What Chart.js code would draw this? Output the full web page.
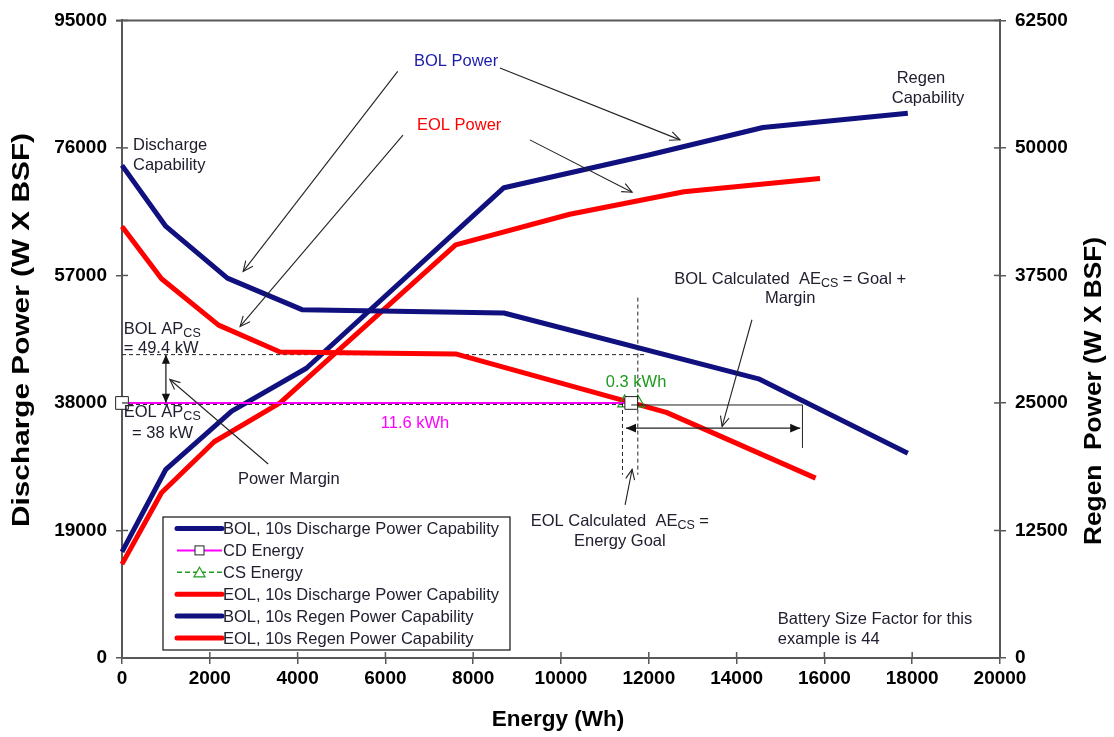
<!DOCTYPE html>
<html>
<head>
<meta charset="utf-8">
<script src="https://cdn.jsdelivr.net/npm/chart.js@4"></script>
<style>body{margin:0;background:#fff}canvas{display:block}</style>
</head>
<body>
<canvas id="chart" width="1114" height="737"></canvas>
<script>
// values (energy in Wh, power in W x BSF)
const bolDisE = [0, 1000, 2400, 4100, 8700, 14500, 17900];
const bolDisP = [73400, 64300, 56600, 51900, 51400, 41600, 30500];
const eolDisE = [0, 900, 2200, 3600, 7600, 12400, 15800];
const eolDisP = [64300, 56500, 49600, 45600, 45300, 36600, 26800];
const bolRegE = [0, 1000, 2500, 4200, 8700, 12000, 14600, 17900];
const bolRegP = [10400, 18500, 24200, 28400, 46100, 49300, 52000, 53400];
const eolRegE = [0, 900, 2100, 3600, 7600, 10200, 12800, 15900];
const eolRegP = [9200, 16200, 21200, 25000, 40500, 43500, 45700, 47000];
const cdE = [0, 11600];
const cdP = [38000, 38000];
const csE = [11450, 11750];
const csP = [38000, 38000];

const seriesNames = [
  'BOL, 10s Discharge Power Capability',
  'CD Energy',
  'CS Energy',
  'EOL, 10s Discharge Power Capability',
  'BOL, 10s Regen Power Capability',
  'EOL, 10s Regen Power Capability'
];

const xTicks = [0, 2000, 4000, 6000, 8000, 10000, 12000, 14000, 16000, 18000, 20000];
const leftTicks = [0, 19000, 38000, 57000, 76000, 95000];
const rightTicks = [0, 12500, 25000, 37500, 50000, 62500];

// levels used by the annotation lines
const bolApcs = 45200;
const eolApcs = 38000;
const bolAeEnd = 15500;

const NAVY = '#10107e';
const RED = '#ff0000';
const MAGENTA = '#ff00ff';
const GREEN = '#1f9a1f';
const TXT = '#202030';

function pts(xs, ys) {
  return xs.map((x, i) => ({ x: x, y: ys[i] }));
}

// [text parts, energy, power, align, colour]
const labels = [
  [['BOL Power'], 7610, 88900, 'center', '#1c1caa'],
  [['EOL Power'], 7680, 79400, 'center', RED],
  [['Regen'], 18200, 86400, 'center', TXT],
  [['Capability'], 18360, 83300, 'center', TXT],
  [['Discharge'], 250, 76300, 'left', TXT],
  [['Capability'], 250, 73350, 'left', TXT],
  [['BOL AP', '_CS'], 40, 48900, 'left', TXT],
  [['= 49.4 kW'], 40, 46100, 'left', TXT],
  [['EOL AP', '_CS'], 40, 36600, 'left', TXT],
  [['= 38 kW'], 230, 33500, 'left', TXT],
  [['11.6 kWh'], 6675, 35000, 'center', MAGENTA],
  [['0.3 kWh'], 11710, 41050, 'center', GREEN],
  [['BOL Calculated  AE', '_CS', ' = Goal +'], 15220, 56450, 'center', TXT],
  [['Margin'], 15220, 53500, 'center', TXT],
  [['EOL Calculated  AE', '_CS', ' ='], 11340, 20300, 'center', TXT],
  [['Energy Goal'], 11340, 17350, 'center', TXT],
  [['Power Margin'], 3800, 26550, 'center', TXT],
  [['Battery Size Factor for this'], 14940, 5800, 'left', TXT],
  [['example is 44'], 14940, 2700, 'left', TXT]
];

// pointer arrows: from (E,P) to (E,P)
const pointers = [
  [6280, 87400, 2760, 57600],
  [8610, 87900, 12710, 77200],
  [6400, 77900, 2690, 49400],
  [9290, 77200, 11620, 69400],
  [3330, 28900, 1090, 41500],
  [14350, 50400, 13670, 34500],
  [11460, 22800, 11620, 28100]
];

function drawRich(ctx, parts, x, y, align) {
  const main = '16.5px "Liberation Sans", Arial, sans-serif';
  const sub = '12.5px "Liberation Sans", Arial, sans-serif';
  let total = 0;
  parts.forEach(p => {
    ctx.font = p[0] === '_' ? sub : main;
    total += ctx.measureText(p[0] === '_' ? p.slice(1) : p).width;
  });
  let cx = align === 'center' ? x - total / 2 : x;
  ctx.textAlign = 'left';
  ctx.textBaseline = 'middle';
  parts.forEach(p => {
    const isSub = p[0] === '_';
    const t = isSub ? p.slice(1) : p;
    ctx.font = isSub ? sub : main;
    ctx.fillText(t, cx, isSub ? y + 4 : y);
    cx += ctx.measureText(t).width;
  });
}

function head(ctx, x1, y1, x2, y2, size, filled) {
  const a = Math.atan2(y2 - y1, x2 - x1);
  ctx.beginPath();
  ctx.moveTo(x2 - size * Math.cos(a - 0.42), y2 - size * Math.sin(a - 0.42));
  ctx.lineTo(x2, y2);
  ctx.lineTo(x2 - size * Math.cos(a + 0.42), y2 - size * Math.sin(a + 0.42));
  if (filled) { ctx.closePath(); ctx.fill(); } else ctx.stroke();
}

function line(ctx, x1, y1, x2, y2, dash) {
  ctx.setLineDash(dash || []);
  ctx.beginPath();
  ctx.moveTo(x1, y1);
  ctx.lineTo(x2, y2);
  ctx.stroke();
  ctx.setLineDash([]);
}

// rotated axis title, stretched along its length like the reference
function sideTitle(ctx, text, cx, cy, length) {
  const w = ctx.measureText(text).width;
  ctx.save();
  ctx.translate(cx, cy);
  ctx.rotate(-Math.PI / 2);
  ctx.scale(length / w, 1);
  ctx.fillText(text, 0, 0);
  ctx.restore();
}

const overlay = {
  id: 'overlay',
  beforeDatasetsDraw(chart) {
    const ctx = chart.ctx;
    const X = v => chart.scales.x.getPixelForValue(v);
    const Y = v => chart.scales.y.getPixelForValue(v);
    ctx.save();
    ctx.strokeStyle = '#222';
    ctx.lineWidth = 1;
    line(ctx, X(0), Y(bolApcs), X(11900), Y(bolApcs), [4, 3]);
    line(ctx, X(0), Y(eolApcs) + 1.5, X(cdE[1]), Y(eolApcs) + 1.5, [4, 3]);
    ctx.restore();
  },
  afterDatasetsDraw(chart) {
    const ctx = chart.ctx;
    const X = v => chart.scales.x.getPixelForValue(v);
    const Y = v => chart.scales.y.getPixelForValue(v);
    ctx.save();
    ctx.strokeStyle = '#222';
    ctx.fillStyle = '#111';
    ctx.lineWidth = 1;
    // BOL energy span and bracket lines
    line(ctx, X(cdE[1]), Y(37700), X(bolAeEnd), Y(37700));
    line(ctx, X(bolAeEnd), Y(37700), X(bolAeEnd), Y(31300));
    line(ctx, X(csE[1]), Y(53700), X(csE[1]), Y(27300), [4, 3]);
    line(ctx, X(csE[0] - 50), Y(eolApcs), X(csE[0] - 50), Y(27300), [4, 3]);
    // double arrows
    ctx.lineWidth = 1.3;
    const hy = Y(34250), hx1 = X(11480), hx2 = X(15450);
    line(ctx, hx1, hy, hx2, hy);
    head(ctx, hx2, hy, hx1, hy, 11, true);
    head(ctx, hx1, hy, hx2, hy, 11, true);
    const vx = X(1000), vy1 = Y(bolApcs), vy2 = Y(eolApcs);
    line(ctx, vx, vy1, vx, vy2);
    head(ctx, vx, vy2, vx, vy1, 10, true);
    head(ctx, vx, vy1, vx, vy2, 10, true);
    // pointer arrows
    ctx.lineWidth = 1.1;
    pointers.forEach(p => {
      const x1 = X(p[0]), y1 = Y(p[1]), x2 = X(p[2]), y2 = Y(p[3]);
      line(ctx, x1, y1, x2, y2);
      head(ctx, x1, y1, x2, y2, 11, false);
    });
    // text labels
    labels.forEach(l => {
      ctx.fillStyle = l[4];
      drawRich(ctx, l[0], X(l[1]), Y(l[2]), l[3]);
    });
    ctx.restore();
  },
  afterDraw(chart) {
    const ctx = chart.ctx;
    const a = chart.chartArea;
    ctx.save();
    // inner halves of the crossing tick marks and the top frame line
    ctx.strokeStyle = '#585858';
    ctx.lineWidth = 1.5;
    chart.scales.x.ticks.forEach(t => {
      const x = chart.scales.x.getPixelForValue(t.value);
      line(ctx, x, a.bottom, x, a.bottom - 6);
    });
    chart.scales.y.ticks.forEach(t => {
      const y = chart.scales.y.getPixelForValue(t.value);
      line(ctx, a.left, y, a.left + 6, y);
    });
    chart.scales.y2.ticks.forEach(t => {
      const y = chart.scales.y2.getPixelForValue(t.value);
      line(ctx, a.right, y, a.right - 6, y);
    });
    ctx.lineWidth = 2;
    line(ctx, a.left - 6, a.top, a.right, a.top);

    // axis titles
    ctx.fillStyle = '#000';
    ctx.font = 'bold 22.5px "Liberation Sans", Arial, sans-serif';
    ctx.textAlign = 'center';
    ctx.textBaseline = 'middle';
    ctx.fillText('Energy (Wh)', (a.left + a.right) / 2 - 3, 720);
    ctx.font = 'bold 23px "Liberation Sans", Arial, sans-serif';
    sideTitle(ctx, 'Discharge Power (W X BSF)', 23, 330, 394);
    sideTitle(ctx, 'Regen  Power (W X BSF)', 1095, 391, 308);

    // legend box inside the plot
    const lx = 163, ly = 517, lw = 347, lh = 133, row = 21.9;
    ctx.fillStyle = '#fff';
    ctx.fillRect(lx, ly, lw, lh);
    ctx.strokeStyle = '#111';
    ctx.lineWidth = 1.2;
    ctx.strokeRect(lx, ly, lw, lh);
    chart.data.datasets.forEach((ds, i) => {
      const cy = ly + 11.5 + i * row;
      ctx.strokeStyle = ds.borderColor;
      ctx.lineWidth = Math.min(ds.borderWidth, 5);
      ctx.lineCap = ds.borderWidth > 3 ? 'round' : 'butt';
      line(ctx, lx + 14, cy, lx + 59, cy, ds.borderDash);
      ctx.lineCap = 'butt';
      if (ds.legendMarker === 'rect') {
        ctx.fillStyle = '#fff';
        ctx.strokeStyle = '#222';
        ctx.lineWidth = 1;
        ctx.fillRect(lx + 32, cy - 4.5, 9, 9);
        ctx.strokeRect(lx + 32, cy - 4.5, 9, 9);
      } else if (ds.legendMarker === 'triangle') {
        ctx.fillStyle = '#fff';
        ctx.strokeStyle = GREEN;
        ctx.lineWidth = 1.2;
        ctx.beginPath();
        ctx.moveTo(lx + 36.5, cy - 5);
        ctx.lineTo(lx + 42, cy + 4.5);
        ctx.lineTo(lx + 31, cy + 4.5);
        ctx.closePath();
        ctx.fill();
        ctx.stroke();
      }
      ctx.fillStyle = TXT;
      ctx.font = '16.5px "Liberation Sans", Arial, sans-serif';
      ctx.textAlign = 'left';
      ctx.textBaseline = 'middle';
      ctx.fillText(ds.label, lx + 60, cy + 1);
    });
    ctx.restore();
  }
};

const tickFont = { family: '"Liberation Sans", Arial, sans-serif', size: 19, weight: 'bold' };
const axisGrid = { drawOnChartArea: false, drawTicks: true, tickLength: 6, color: '#585858', lineWidth: 1.5 };
const axisBorder = { color: '#585858', width: 2 };

new Chart(document.getElementById('chart'), {
  type: 'line',
  data: {
    datasets: [
      { label: seriesNames[0], data: pts(bolDisE, bolDisP), yAxisID: 'y',
        borderColor: NAVY, borderWidth: 5, pointRadius: 0 },
      { label: seriesNames[1], data: pts(cdE, cdP), yAxisID: 'y',
        borderColor: MAGENTA, borderWidth: 2, pointStyle: 'rect', pointRadius: 9,
        pointBackgroundColor: '#fff', pointBorderColor: '#222', pointBorderWidth: 1, legendMarker: 'rect' },
      { label: seriesNames[2], data: pts(csE, csP), yAxisID: 'y',
        borderColor: GREEN, borderWidth: 1.5, borderDash: [5, 3], pointStyle: 'triangle', pointRadius: 8,
        pointBackgroundColor: 'rgba(255,255,255,0)', pointBorderColor: GREEN, pointBorderWidth: 1.2, legendMarker: 'triangle' },
      { label: seriesNames[3], data: pts(eolDisE, eolDisP), yAxisID: 'y',
        borderColor: RED, borderWidth: 5, pointRadius: 0 },
      { label: seriesNames[4], data: pts(bolRegE, bolRegP), yAxisID: 'y2',
        borderColor: NAVY, borderWidth: 5, pointRadius: 0 },
      { label: seriesNames[5], data: pts(eolRegE, eolRegP), yAxisID: 'y2',
        borderColor: RED, borderWidth: 5, pointRadius: 0 }
    ]
  },
  options: {
    responsive: false,
    animation: false,
    clip: false,
    layout: { padding: { top: 17, left: 0, right: 0, bottom: 0 } },
    elements: { line: { tension: 0, borderJoinStyle: 'round', borderCapStyle: 'butt' } },
    plugins: { legend: { display: false }, tooltip: { enabled: false } },
    scales: {
      x: {
        type: 'linear', min: 0, max: 20000,
        afterBuildTicks: s => { s.ticks = xTicks.map(v => ({ value: v })); },
        afterFit: s => { s.height = 79; },
        ticks: { font: tickFont, color: '#000', padding: 3, maxRotation: 0, callback: v => String(v) },
        grid: axisGrid, border: axisBorder
      },
      y: {
        position: 'left', min: 0, max: 95000,
        afterBuildTicks: s => { s.ticks = leftTicks.map(v => ({ value: v })); },
        afterFit: s => { s.width = 122; },
        ticks: { font: tickFont, color: '#000', padding: 9, callback: v => String(v) },
        grid: axisGrid, border: axisBorder
      },
      y2: {
        position: 'right', min: 0, max: 62500,
        afterBuildTicks: s => { s.ticks = rightTicks.map(v => ({ value: v })); },
        afterFit: s => { s.width = 114; },
        ticks: { font: tickFont, color: '#000', padding: 9, callback: v => String(v) },
        grid: axisGrid, border: axisBorder
      }
    }
  },
  plugins: [overlay]
});
</script>
</body>
</html>
